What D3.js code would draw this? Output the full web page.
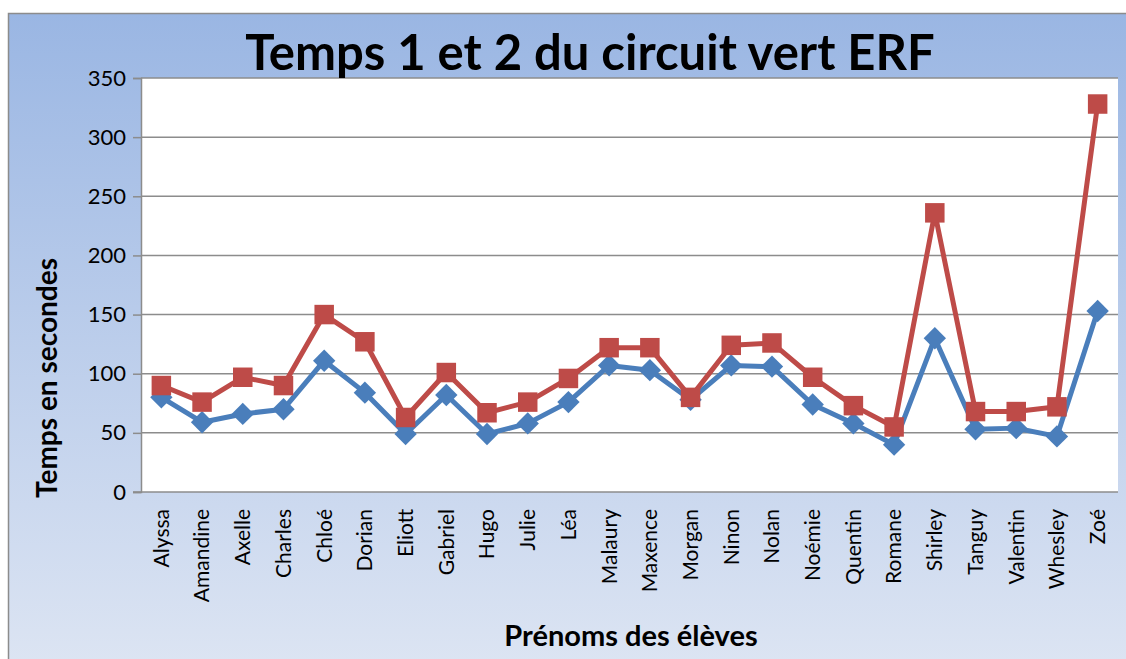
<!DOCTYPE html>
<html>
<head>
<meta charset="utf-8">
<script src="https://cdn.jsdelivr.net/npm/d3@7"></script>
<style>
  body { margin: 0; background: #fff; }
  svg { display: block; }
</style>
</head>
<body>
<div id="chart"></div>
<script>
// data
var eleves = ["Alyssa", "Amandine", "Axelle", "Charles", "Chloé", "Dorian", "Eliott", "Gabriel",
  "Hugo", "Julie", "Léa", "Malaury", "Maxence", "Morgan", "Ninon", "Nolan", "Noémie", "Quentin",
  "Romane", "Shirley", "Tanguy", "Valentin", "Whesley", "Zoé"]
var temps1 = [80, 59, 66, 70, 111, 84, 49, 82, 49, 58, 76, 107, 103, 78, 107, 106, 74, 58, 40, 130, 53, 54, 47, 153]
var temps2 = [90, 76, 97, 90, 150, 127, 63, 101, 67, 76, 96, 122, 122, 80, 124, 126, 97, 73, 55, 236, 68, 68, 72, 328]
var yTicks = [0, 50, 100, 150, 200, 250, 300, 350]

var width = 1126, height = 659
var margin = {top: 78, left: 141, right: 8, bottom: 167}
var font = "Lato, 'Open Sans', sans-serif"

var svg = d3.select("#chart").append("svg")
  .attr("width", width)
  .attr("height", height)

var grad = svg.append("defs").append("linearGradient")
  .attr("id", "bg").attr("x1", 0).attr("y1", 0).attr("x2", 0).attr("y2", 1)
grad.append("stop").attr("offset", "0%").attr("stop-color", "#9ab6e3")
grad.append("stop").attr("offset", "100%").attr("stop-color", "#dde5f3")

// chart frame
svg.append("rect")
  .attr("x", 8.5).attr("y", 13.5)
  .attr("width", width + 10).attr("height", height)
  .attr("fill", "url(#bg)")
  .attr("stroke", "#8c8c8c")
  .attr("stroke-width", 1.5)

var x = d3.scaleBand()
  .domain(eleves)
  .range([margin.left, width - margin.right])

var y = d3.scaleLinear()
  .domain([0, 350])
  .range([height - margin.bottom, margin.top])

// plot area
svg.append("rect")
  .attr("x", margin.left).attr("y", margin.top)
  .attr("width", width - margin.right - margin.left)
  .attr("height", y(0) - margin.top)
  .attr("fill", "#fff")

// gridlines
svg.append("g")
  .selectAll("line")
  .data(yTicks.slice(1))
  .enter()
  .append("line")
  .attr("x1", margin.left).attr("x2", width - margin.right)
  .attr("y1", d => y(d)).attr("y2", d => y(d))
  .style("stroke", "#8c8c8c")
  .style("stroke-width", 1.5)

// y axis
var yAxis = svg.append("g")
  .attr("transform", "translate(" + margin.left + ",0)")
  .call(d3.axisLeft(y).tickValues(yTicks).tickSize(8).tickPadding(7))
yAxis.select(".domain").style("stroke", "#8c8c8c").style("stroke-width", 1.5)
yAxis.selectAll(".tick line").style("stroke", "#8c8c8c").style("stroke-width", 1.5)
yAxis.selectAll("text")
  .style("font-family", font)
  .style("font-size", "22px")
  .style("fill", "#000")

// x axis
var xAxis = svg.append("g")
  .attr("transform", "translate(0," + y(0) + ")")
  .call(d3.axisBottom(x).tickSize(0).tickPadding(0))
xAxis.select(".domain").remove()
xAxis.append("line")
  .attr("x1", margin.left - 8).attr("x2", width - margin.right)
  .style("stroke", "#8c8c8c").style("stroke-width", 1.5)
xAxis.selectAll(".tick text")
  .attr("transform", "translate(0,17) rotate(-90)")
  .attr("dy", "0.35em")
  .attr("y", 0)
  .attr("x", 0)
  .style("text-anchor", "end")
  .style("font-family", font)
  .style("font-size", "21px")
  .style("fill", "#000")

// series: diamonds drawn as squares turned 45 degrees
var series = [
  {values: temps1, color: "#4a7ebb", size: 250, rot: 45},
  {values: temps2, color: "#be4b48", size: 380, rot: 0}
]

var line = d3.line()
  .x((d, i) => x(eleves[i]) + x.bandwidth() / 2)
  .y(d => y(d))

series.forEach(function(s) {
  svg.append("path")
    .datum(s.values)
    .attr("d", line)
    .style("fill", "none")
    .style("stroke", s.color)
    .style("stroke-width", 5)
    .style("stroke-linejoin", "round")

  svg.append("g")
    .selectAll("path")
    .data(s.values)
    .enter()
    .append("path")
    .attr("d", d3.symbol().type(d3.symbolSquare).size(s.size))
    .attr("transform", (d, i) => "translate(" + (x(eleves[i]) + x.bandwidth() / 2) + "," + y(d) + ") rotate(" + s.rot + ")")
    .style("fill", s.color)
})

// title and axis titles
svg.append("text")
  .attr("x", 590).attr("y", 70)
  .attr("text-anchor", "middle")
  .style("font-family", font)
  .style("font-weight", "bold")
  .style("font-size", "49px")
  .text("Temps 1 et 2 du circuit vert ERF")

svg.append("text")
  .attr("transform", "translate(57,378) rotate(-90)")
  .attr("text-anchor", "middle")
  .style("font-family", font)
  .style("font-weight", "bold")
  .style("font-size", "28px")
  .text("Temps en secondes")

svg.append("text")
  .attr("x", 631).attr("y", 646)
  .attr("text-anchor", "middle")
  .style("font-family", font)
  .style("font-weight", "bold")
  .style("font-size", "29px")
  .text("Prénoms des élèves")
</script>
</body>
</html>
